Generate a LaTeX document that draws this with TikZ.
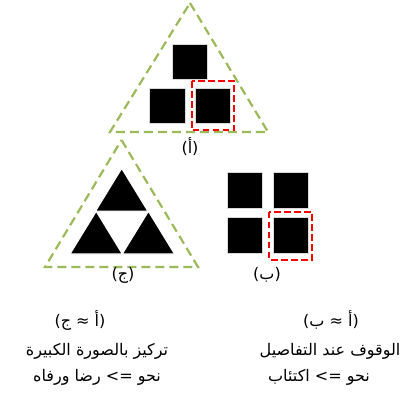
\documentclass[tikz,border=0pt]{standalone}
\usepackage{fontspec}
\newfontfamily\arabicfont[Script=Arabic]{DejaVu Sans}
\newfontfamily\plainfont{DejaVu Sans}
\TeXXeTstate=1
\usetikzlibrary{positioning}
\definecolor{framegreen}{RGB}{155,187,89}

\begin{document}
\begin{tikzpicture}[x=1pt,y=-1pt,
  blk/.style={fill=black,draw=gray!30,line width=0.4pt,minimum size=35.5pt,inner sep=0pt},
  frame/.style={draw=framegreen,dash pattern=on 9pt off 5pt,line width=2.2pt},
  pick/.style={draw=red,dash pattern=on 6.5pt off 3.5pt,line width=2pt},
  lbl/.style={font=\arabicfont\fontsize{16}{18}\selectfont,inner sep=0pt},
  txt/.style={font=\arabicfont\fontsize{16}{18}\selectfont,inner sep=0pt}]
  \useasboundingbox (0,0) rectangle (401,396);

  % (a): pyramid of squares
  \draw[frame] (190,3) -- (268,132) -- (110,132) -- cycle;
  \node[blk]                     (a1) at (189.5,61.7) {};
  \node[blk]                     (a2) at (167,105.7)  {};
  \node[blk,right=10pt of a2]    (a3) {};
  \draw[pick] (191.7,81) rectangle (234.3,130);
  \node[lbl] (la) at (190,147) {\beginR(أ)\endR};

  % (c): triangle of triangles
  \draw[frame] (121.5,140) -- (198,267) -- (45,267) -- cycle;
  \foreach \p/\q in {121.7/168.3, 96.2/211.2, 148.4/211.2}
    \fill[black,draw=white,line width=1.2pt] (\p,\q) -- ++(26.2,42.8) -- ++(-52.4,0) -- cycle;
  \node[lbl] (lc) at (123,275) {\beginR(ج)\endR};

  % (b): grid of squares
  \node[blk]                     (b1) at (244.8,190.3) {};
  \node[blk,right=10pt of b1]    (b2) {};
  \node[blk,below=9pt of b1]     (b3) {};
  \node[blk,right=10pt of b3]    (b4) {};
  \draw[pick] (269.3,211.7) rectangle (311.7,260);
  \node[lbl] (lb) at (267,275) {\beginR(ب)\endR};

  % captions
  \node[txt] (c1) at (80,320)  {{\plainfont(}\beginR أ ≈ ج\endR{\plainfont)}};
  \node[txt] (c2) at (97,351)  {\beginR تركيز بالصورة الكبيرة\endR};
  \node[txt] (c3) at (97,377)  {\beginR نحو => رضا ورفاه\endR};
  \node[txt] (d1) at (331,320) {{\plainfont(}\beginR أ ≈ ب\endR{\plainfont)}};
  \node[txt] (d2) at (330,351) {\beginR الوقوف عند التفاصيل\endR};
  \node[txt] (d3) at (319,377) {\beginR نحو => اكتئاب\endR};
\end{tikzpicture}
\end{document}
